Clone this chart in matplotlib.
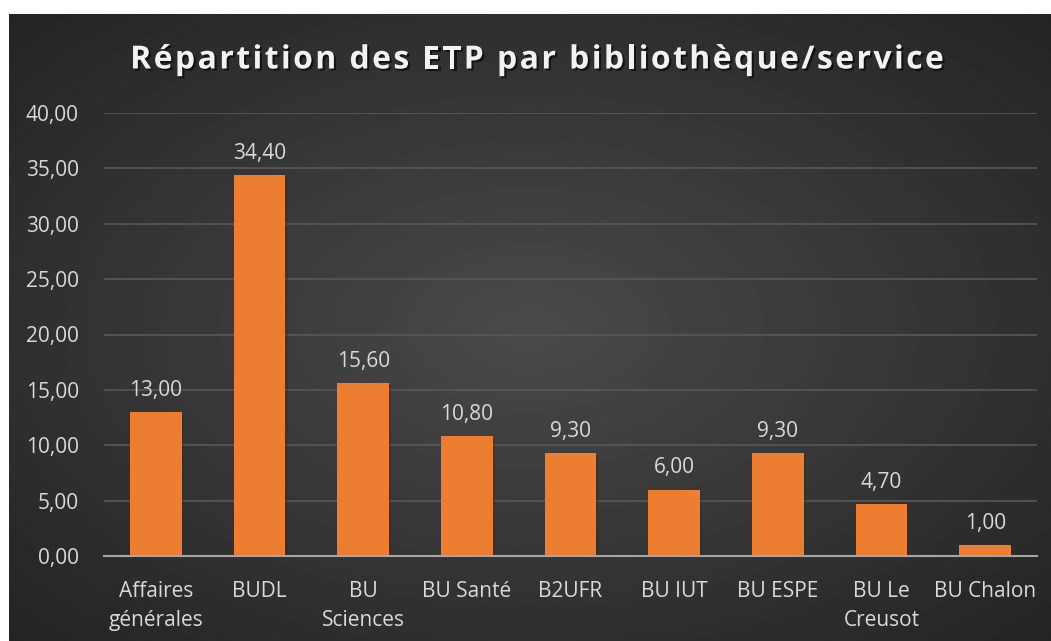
import matplotlib
matplotlib.use('Agg')
import matplotlib.pyplot as plt
import matplotlib.patheffects as pe
from matplotlib.ticker import FuncFormatter
import numpy as np

# Data
categories = ['Affaires\ngénérales', 'BUDL', 'BU\nSciences', 'BU Santé', 'B2UFR',
              'BU IUT', 'BU ESPE', 'BU Le\nCreusot', 'BU Chalon']
etp = [13.00, 34.40, 15.60, 10.80, 9.30, 6.00, 9.30, 4.70, 1.00]
y_ticks = [0, 5, 10, 15, 20, 25, 30, 35, 40]
title = 'Répartition des ETP par bibliothèque/service'

BAR_COLOR = '#ED7D31'
TEXT_COLOR = '#D9D9D9'
FONT = ['Open Sans', 'DejaVu Sans']

plt.rcParams['font.family'] = FONT

W, H = 1051, 641
fig = plt.figure(figsize=(W / 100, H / 100), dpi=100)
fig.patch.set_facecolor('white')

# Dark radial gradient background (chart area)
bg_left, bg_top = 9, 14
bg = fig.add_axes([bg_left / W, 0, 1 - bg_left / W, 1 - bg_top / H])
bg.set_axis_off()
yy, xx = np.mgrid[-1:1:300j, -1:1:500j]
r = np.sqrt(xx ** 2 + yy ** 2) / np.sqrt(2)
grad = 0.29 - 0.15 * r
bg.imshow(grad, cmap='gray', vmin=0, vmax=1, aspect='auto', extent=[0, 1, 0, 1])

# Plot area
x0, x1 = 104, 1037
y0, y1 = 556, 113
ax = fig.add_axes([x0 / W, 1 - y0 / H, (x1 - x0) / W, (y0 - y1) / H])
ax.patch.set_alpha(0)

x = np.arange(len(categories))
bars = ax.bar(x, etp, width=0.5, color=BAR_COLOR, zorder=3)
for b in bars:
    b.set_path_effects([pe.SimplePatchShadow(offset=(1.5, -1.5), alpha=0.35), pe.Normal()])

ax.set_xlim(-0.5, len(categories) - 0.5)
ax.set_ylim(0, 40)
ax.set_yticks(y_ticks)
ax.yaxis.set_major_formatter(FuncFormatter(lambda v, p: f'{v:.2f}'.replace('.', ',')))
ax.set_xticks(x)
ax.set_xticklabels(categories, linespacing=1.5)

ax.grid(True, axis='y', color='#585858', linewidth=1.2, zorder=0)
ax.tick_params(axis='both', length=0, colors=TEXT_COLOR, labelsize=15)
ax.tick_params(axis='y', pad=18)
ax.tick_params(axis='x', pad=18)
for s in ['top', 'right', 'left']:
    ax.spines[s].set_visible(False)
ax.spines['bottom'].set_color('#A6A6A6')
ax.spines['bottom'].set_linewidth(1.5)
ax.spines['bottom'].set_zorder(4)

# Data labels
for xi, v in zip(x, etp):
    ax.annotate(f'{v:.2f}'.replace('.', ','), (xi, v), xytext=(0, 8),
                textcoords='offset points', ha='center', va='bottom',
                color=TEXT_COLOR, fontsize=15)

# Title, drawn letter by letter to get the wide tracking
renderer = fig.canvas.get_renderer()
title_kw = dict(color='#F2F2F2', fontsize=23, fontweight='bold', va='center', ha='left',
                path_effects=[pe.withSimplePatchShadow(offset=(1.5, -1.5),
                                                       shadow_rgbFace='black', alpha=0.6)])


def text_width(s):
    t = fig.text(0, 0, s, **title_kw)
    w = t.get_window_extent(renderer).width
    t.remove()
    return w


spacing = 2.4
total = text_width(title) + spacing * (len(title) - 1)
start = 537 - total / 2
for i, ch in enumerate(title):
    px = start + (text_width(title[:i]) if i else 0) + spacing * i
    fig.text(px / W, 1 - 60 / H, ch, **title_kw)

plt.savefig('out.png', dpi=100)
plt.close()
